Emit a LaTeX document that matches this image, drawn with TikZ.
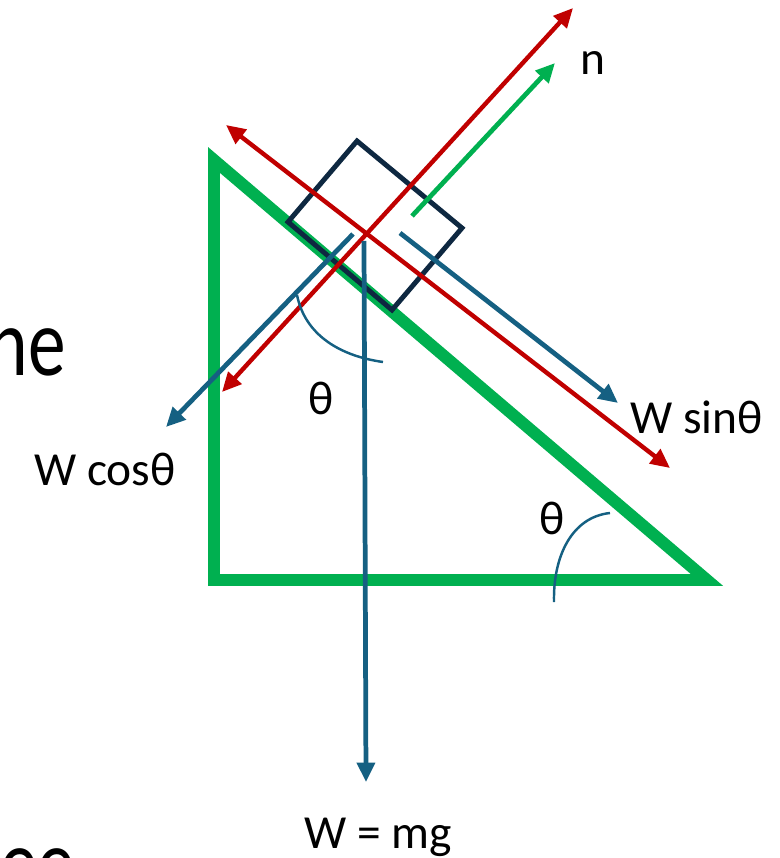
\documentclass[tikz,border=0pt]{standalone}
\usepackage{fontspec}
\setmainfont{Carlito}
\usetikzlibrary{arrows.meta}
\definecolor{slope}{HTML}{00B050}
\definecolor{force}{HTML}{C00000}
\definecolor{weight}{HTML}{156082}
\definecolor{blockc}{HTML}{0E2841}
\tikzset{
  vec/.style={line width=2.7pt, -{Triangle[length=11pt,width=10pt]}},
  dvec/.style={line width=2.5pt, {Triangle[length=11pt,width=10pt]}-{Triangle[length=11pt,width=10pt]}},
  lbl/.style={font=\fontsize{27}{32}\selectfont, inner sep=0pt},
  frag/.style={font=\fontsize{55}{64}\selectfont, inner sep=0pt, xscale=0.78},
  angarc/.style={weight, line width=1.4pt},
}
\begin{document}
\begin{tikzpicture}[x=0.02cm, y=-0.02cm]
  \useasboundingbox (0,0) rectangle (779,858);

  % Slide text cut off at the edges
  \node[frag, anchor=base east] (frag1) at (66,375) {ne};
  \node[frag, anchor=north west] (frag2) at (0,848) {ee};

  % Incline
  \draw[slope, line width=6.8pt, line join=miter] (214,160) -- (214,580) -- (707,580) -- cycle;

  % Block
  \draw[blockc, line width=2.8pt] (357,141) -- (462,228) -- (392,310) -- (288,222) -- cycle;

  % Axes along and normal to the incline
  \draw[dvec, force] (226,125) -- (670,468);
  \draw[dvec, force] (222,392) -- (573,8);

  % Normal force
  \draw[vec, slope] (412,216) -- (555,63);

  % Weight and its components
  \draw[vec, weight] (400,233) -- (618,403);
  \draw[vec, weight] (353,234) -- (166,427);
  \draw[vec, weight] (364,241) -- (366,782);

  % Angles
  \draw[angarc] (297,295) .. controls (305,335) and (340,356) .. (383,362);
  \draw[angarc] (610,513) .. controls (572,517) and (553,556) .. (554,602);

  % Labels
  \node[lbl] (nlbl) at (593,63) {n};
  \node[lbl, anchor=base west] (wsin) at (630,433) {W sinθ};
  \node[lbl, anchor=base east] (wcos) at (176,485) {W cosθ};
  \node[lbl] (theta1) at (321,398) {θ};
  \node[lbl] (theta2) at (552,518) {θ};
  \node[lbl, anchor=base] (wmg) at (378,848) {W = mg};
\end{tikzpicture}
\end{document}
